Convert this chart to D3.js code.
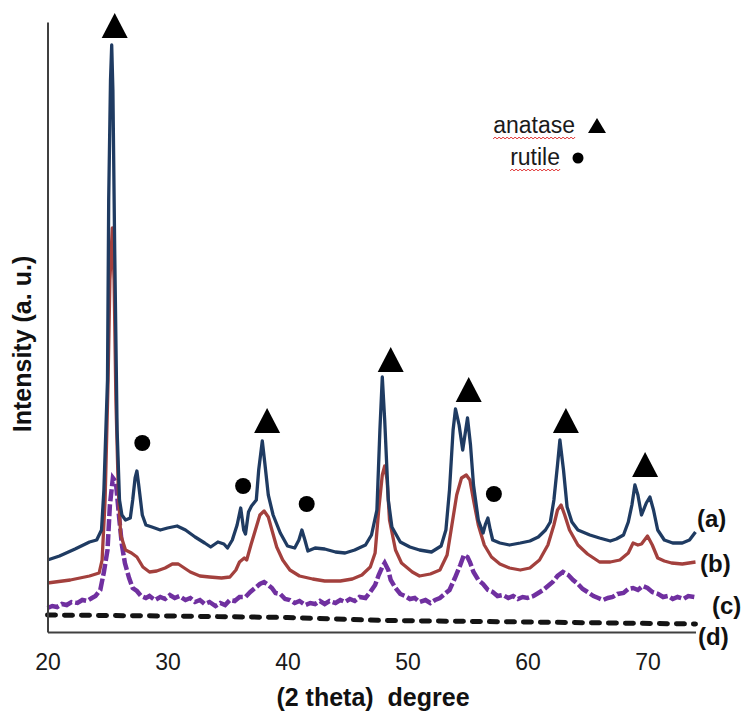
<!DOCTYPE html>
<html>
<head>
<meta charset="utf-8">
<script src="https://cdn.jsdelivr.net/npm/d3@7"></script>
<style>
  body { margin: 0; background: #fff; }
  svg { display: block; font-family: "Liberation Sans", Arial, sans-serif; }
</style>
</head>
<body>
<div id="chart"></div>
<script>
// XRD patterns, 2 theta (deg) vs intensity (a. u.)
var xTicks = [20, 30, 40, 50, 60, 70];

var seriesA = [
  [20.0, 72], [21.0, 76], [22.3, 83], [23.5, 90], [24.1, 92], [24.5, 102], [24.7, 142], [25.0, 252],
  [25.1, 432], [25.25, 552], [25.35, 587], [25.45, 542], [25.6, 382], [25.8, 202], [26.0, 132],
  [26.2, 117], [26.5, 112], [26.9, 114], [27.1, 132], [27.3, 154], [27.45, 161], [27.6, 147],
  [27.9, 117], [28.2, 107], [28.7, 105], [29.4, 102], [30.0, 104], [30.8, 106], [31.5, 102],
  [32.3, 95], [33.1, 89], [33.6, 85], [34.2, 90], [34.7, 88], [35.0, 84], [35.4, 92], [35.8, 107],
  [36.1, 124], [36.35, 102], [36.5, 98], [36.75, 120], [37.0, 126], [37.4, 132], [37.6, 162],
  [37.9, 191], [38.1, 170], [38.4, 137], [38.8, 117], [39.4, 99], [40.0, 86], [40.6, 84],
  [40.95, 92], [41.2, 102], [41.45, 92], [41.7, 81], [42.3, 84], [43.1, 83], [44.0, 80],
  [44.8, 79], [45.6, 82], [46.5, 87], [47.0, 97], [47.45, 122], [47.7, 202], [47.9, 255],
  [48.1, 212], [48.4, 132], [48.7, 105], [49.4, 90], [50.2, 85], [51.0, 82], [52.0, 80],
  [52.8, 86], [53.2, 102], [53.5, 142], [53.8, 202], [54.0, 223], [54.3, 207], [54.6, 182],
  [54.85, 202], [55.0, 214], [55.25, 187], [55.5, 147], [55.9, 112], [56.3, 99], [56.5, 108],
  [56.7, 114], [56.9, 102], [57.1, 92], [57.7, 89], [58.5, 87], [59.4, 89], [60.2, 91],
  [60.9, 95], [61.5, 102], [61.9, 110], [62.2, 132], [62.5, 167], [62.7, 192], [63.0, 162],
  [63.3, 125], [63.7, 110], [64.2, 102], [65.2, 97], [66.0, 94], [66.9, 91], [67.4, 93],
  [68.0, 97], [68.4, 110], [68.7, 127], [68.95, 147], [69.2, 137], [69.5, 117], [69.9, 129],
  [70.2, 135], [70.5, 122], [70.85, 102], [71.4, 92], [72.1, 89], [72.9, 89], [73.5, 92], [74.0, 100]
];

var seriesB = [
  [20.0, 49], [21.9, 52], [23.5, 56], [24.3, 59], [24.55, 72], [24.8, 132], [25.05, 252],
  [25.2, 352], [25.4, 404], [25.55, 352], [25.7, 232], [25.9, 142], [26.1, 97], [26.5, 82],
  [27.0, 79], [27.45, 75], [27.95, 65], [28.5, 60], [29.1, 61], [29.8, 64], [30.4, 68],
  [30.9, 68], [31.4, 64], [31.9, 60], [32.7, 56], [33.5, 55], [34.5, 54], [35.2, 55], [35.7, 62],
  [36.0, 70], [36.4, 74], [36.6, 72], [36.95, 87], [37.4, 105], [37.7, 117], [38.05, 121],
  [38.4, 115], [38.7, 102], [39.1, 85], [39.6, 72], [40.2, 62], [41.0, 56], [42.1, 53],
  [43.1, 51], [44.4, 51], [45.4, 53], [46.2, 57], [46.9, 65], [47.3, 79], [47.6, 122],
  [47.9, 157], [48.1, 166], [48.3, 152], [48.5, 112], [49.0, 82], [49.5, 69], [50.4, 60],
  [51.0, 56], [51.9, 58], [52.7, 62], [53.3, 77], [53.7, 107], [54.1, 137], [54.5, 154],
  [54.9, 157], [55.2, 152], [55.5, 132], [55.9, 107], [56.4, 87], [57.0, 75], [57.7, 68],
  [58.5, 64], [59.4, 62], [60.2, 64], [61.0, 72], [61.7, 87], [62.2, 107], [62.5, 122],
  [62.8, 127], [63.1, 117], [63.5, 102], [64.2, 87], [65.0, 78], [66.0, 70], [66.9, 70],
  [67.7, 72], [68.4, 79], [68.8, 89], [69.2, 87], [69.5, 88], [70.0, 96], [70.4, 87],
  [70.85, 74], [71.4, 71], [72.0, 69], [72.9, 68], [74.0, 70]
];

var seriesC = [
  [20.0, 24], [20.4, 26], [20.8, 25], [21.2, 28], [21.6, 27], [22.0, 30], [22.5, 29], [22.9, 32],
  [23.3, 31], [23.7, 34], [24.0, 36], [24.4, 42], [24.7, 60], [25.0, 82], [25.2, 127],
  [25.45, 154], [25.7, 150], [25.95, 117], [26.2, 87], [26.45, 69], [26.8, 54], [27.1, 44],
  [27.45, 41], [27.8, 36], [28.2, 34], [28.5, 36], [28.95, 32], [29.4, 35], [29.8, 33],
  [30.2, 37], [30.6, 34], [31.0, 36], [31.5, 32], [31.9, 34], [32.3, 30], [32.7, 32], [33.1, 28],
  [33.5, 30], [34.0, 26], [34.4, 29], [34.8, 27], [35.2, 32], [35.6, 31], [36.0, 35], [36.5, 35],
  [36.9, 40], [37.3, 44], [37.7, 48], [38.05, 50], [38.4, 47], [38.7, 44], [39.0, 39], [39.4, 38],
  [39.8, 33], [40.2, 32], [40.6, 29], [41.0, 31], [41.5, 27], [41.9, 29], [42.3, 28], [42.7, 31],
  [43.1, 28], [43.5, 31], [44.0, 29], [44.4, 32], [44.8, 30], [45.2, 33], [45.6, 31], [46.0, 35],
  [46.5, 34], [46.9, 40], [47.3, 47], [47.6, 57], [47.9, 65], [48.1, 69], [48.4, 62], [48.6, 52],
  [49.0, 44], [49.4, 38], [49.8, 36], [50.2, 33], [50.6, 34], [51.0, 30], [51.5, 32], [51.9, 29],
  [52.3, 32], [52.7, 34], [53.1, 38], [53.5, 42], [53.95, 54], [54.4, 67], [54.7, 77], [55.0, 75],
  [55.2, 70], [55.5, 60], [55.9, 52], [56.3, 48], [56.7, 42], [57.1, 40], [57.5, 36], [57.95, 37],
  [58.4, 34], [58.8, 36], [59.2, 33], [59.6, 35], [60.0, 34], [60.5, 36], [60.9, 39], [61.3, 42],
  [61.7, 46], [62.1, 50], [62.5, 56], [62.95, 60], [63.4, 57], [63.8, 52], [64.2, 48], [64.6, 43],
  [65.0, 40], [65.5, 36], [65.9, 34], [66.3, 32], [66.7, 34], [67.1, 35], [67.5, 38], [68.0, 39],
  [68.4, 43], [68.8, 44], [69.2, 42], [69.6, 46], [70.0, 44], [70.4, 40], [70.9, 38], [71.3, 35],
  [71.7, 36], [72.1, 33], [72.5, 35], [73.0, 33], [73.4, 36], [73.9, 35]
];

var seriesD = [[20.0, 17], [30.0, 16], [40.0, 14.5], [48.0, 11.5], [60.0, 10], [74.0, 8]];

var anataseMarks = [[25.6, 594], [38.3, 199], [48.6, 260], [55.1, 230], [63.2, 199], [69.8, 155]];
var rutileMarks = [[27.9, 189], [36.3, 146], [41.6, 128], [57.2, 138]];

var seriesLabels = ["(a)", "(b)", "(c)", "(d)"];
var legendNames = ["anatase", "rutile"];

var width = 744,
  height = 714;

var x = d3.scaleLinear().domain([20, 74]).range([47.5, 695.5]);
var y = d3.scaleLinear().domain([0, 610]).range([632, 22]);

var svg = d3.select("#chart").append("svg")
  .attr("width", width)
  .attr("height", height);

var line = d3.line()
  .x(function(d) { return x(d[0]); })
  .y(function(d) { return y(d[1]); });

// curves, bottom first
svg.append("path")
  .datum(seriesD)
  .attr("d", line)
  .attr("fill", "none")
  .attr("stroke", "#141414")
  .attr("stroke-width", 5)
  .attr("stroke-linecap", "round")
  .attr("stroke-dasharray", "8,9");

svg.append("path")
  .datum(seriesC)
  .attr("d", line)
  .attr("fill", "none")
  .attr("stroke", "#7030a0")
  .attr("stroke-width", 4.5)
  .attr("stroke-dasharray", "12,3");

svg.append("path")
  .datum(seriesB)
  .attr("d", line)
  .attr("fill", "none")
  .attr("stroke", "#a3403d")
  .attr("stroke-width", 3.3)
  .attr("stroke-linejoin", "round");

svg.append("path")
  .datum(seriesA)
  .attr("d", line)
  .attr("fill", "none")
  .attr("stroke", "#1f3b62")
  .attr("stroke-width", 3.3)
  .attr("stroke-linejoin", "round");

// axes
svg.append("g")
  .attr("transform", "translate(0," + y(0) + ")")
  .call(d3.axisBottom(x).tickValues(xTicks).tickSize(0).tickPadding(22).tickFormat(d3.format("d")))
  .call(function(g) {
    g.select(".domain").attr("stroke", "#404040").attr("stroke-width", 2);
    g.selectAll("text").attr("font-size", 23).attr("fill", "#1a1a1a")
      .attr("font-family", "Liberation Sans, Arial, sans-serif");
  });

svg.append("g")
  .attr("transform", "translate(" + x(20) + ",0)")
  .call(d3.axisLeft(y).ticks(0).tickSizeOuter(0))
  .call(function(g) {
    g.select(".domain").attr("stroke", "#404040").attr("stroke-width", 2);
  });

svg.append("text")
  .attr("x", 373)
  .attr("y", 706)
  .attr("text-anchor", "middle")
  .attr("font-size", 25)
  .attr("font-weight", "bold")
  .attr("fill", "#111")
  .style("white-space", "pre")
  .text("(2 theta)  degree");

svg.append("text")
  .attr("transform", "translate(31,344) rotate(-90)")
  .attr("text-anchor", "middle")
  .attr("font-size", 25)
  .attr("font-weight", "bold")
  .attr("fill", "#111")
  .text("Intensity (a. u.)");

// phase markers
svg.append("g").selectAll("path")
  .data(anataseMarks)
  .join("path")
  .attr("d", function(d) {
    var cx = x(d[0]), by = y(d[1]);
    return "M" + (cx - 13) + "," + by + "L" + (cx + 13) + "," + by + "L" + cx + "," + (by - 25) + "Z";
  })
  .attr("fill", "#000");

svg.append("g").selectAll("circle")
  .data(rutileMarks)
  .join("circle")
  .attr("cx", function(d) { return x(d[0]); })
  .attr("cy", function(d) { return y(d[1]); })
  .attr("r", 8)
  .attr("fill", "#000");

// series labels
var labelPos = [[697, 527], [700, 572], [712, 614], [698, 645]];
svg.append("g").selectAll("text")
  .data(seriesLabels)
  .join("text")
  .attr("x", function(d, i) { return labelPos[i][0]; })
  .attr("y", function(d, i) { return labelPos[i][1]; })
  .attr("font-size", 24)
  .attr("font-weight", "bold")
  .attr("fill", "#111")
  .text(function(d) { return d; });

// legend
var legendRows = [{ ex: 575, by: 133 }, { ex: 560, by: 165 }];
var legend = svg.append("g");
legendNames.forEach(function(name, i) {
  var r = legendRows[i];
  var t = legend.append("text")
    .attr("x", r.ex)
    .attr("y", r.by)
    .attr("text-anchor", "end")
    .attr("font-size", 23)
    .attr("fill", "#1a1a1a")
    .text(name);
  var w = t.node().getComputedTextLength();
  // spell-check squiggle
  var pts = d3.range(r.ex - w, r.ex + 1, 2).map(function(px, k) {
    return [px, r.by + 4 + (k % 2 ? 0 : 2)];
  });
  legend.append("path")
    .attr("d", d3.line()(pts))
    .attr("fill", "none")
    .attr("stroke", "#e03030")
    .attr("stroke-width", 1);
});
legend.append("path")
  .attr("d", "M588,133L606,133L597,118Z")
  .attr("fill", "#000");
legend.append("circle")
  .attr("cx", 578)
  .attr("cy", 158)
  .attr("r", 5.5)
  .attr("fill", "#000");
</script>
</body>
</html>
